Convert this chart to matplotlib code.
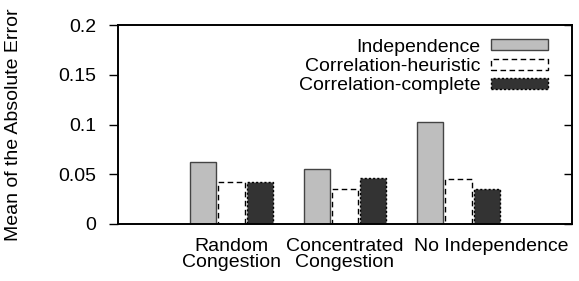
import numpy as np
import matplotlib
matplotlib.use("Agg")
import matplotlib.pyplot as plt
from matplotlib.transforms import ScaledTranslation

plt.rcParams['font.family'] = ['Liberation Sans', 'DejaVu Sans']
plt.rcParams['font.size'] = 14

# данные
groups = ["Random\nCongestion", "Concentrated\nCongestion", "No Independence"]
independence = [0.062, 0.055, 0.103]
corr_heuristic = [0.042, 0.035, 0.045]
corr_complete = [0.042, 0.046, 0.035]

fig = plt.figure(figsize=(5.79, 2.81), dpi=100)
ax = fig.add_axes([118 / 579, 1 - 224 / 281, (572 - 118) / 579, (224 - 25) / 281])

x = np.arange(1, len(groups) + 1)
w = 0.23
ax.bar(x - 0.25, independence, w, color='#bebebe', edgecolor='#444444', linewidth=1.0,
       label='Independence')
ax.bar(x, corr_heuristic, w, color='white', edgecolor='black', linewidth=1.0,
       linestyle=(0, (4, 2.5)), label='Correlation-heuristic')
ax.bar(x + 0.25, corr_complete, w, color='#333333', edgecolor='black', linewidth=1.0,
       linestyle=(0, (1.5, 1.5)), label='Correlation-complete')

ax.set_xlim(0, 4)
ax.set_ylim(0, 0.2)
ax.set_yticks([0, 0.05, 0.1, 0.15, 0.2])
ax.set_yticklabels(['0', '0.05', '0.1', '0.15', '0.2'])
ax.set_xticks(x)
ax.set_xticklabels(groups, linespacing=0.95)
ax.tick_params(axis='x', length=0, pad=10)
ax.tick_params(axis='y', direction='out', length=6.5, width=1, right=False, pad=9)
# последняя подпись в gnuplot сдвинута вправо
lbl = ax.get_xticklabels()[2]
lbl.set_transform(lbl.get_transform() + ScaledTranslation(0.33, 0, fig.dpi_scale_trans))

# правые тики внутрь
ax2 = ax.twinx()
ax2.set_ylim(0, 0.2)
ax2.set_yticks([0, 0.05, 0.1, 0.15, 0.2])
ax2.tick_params(axis='y', direction='in', length=6, width=1, labelright=False)
for a in (ax, ax2):
    for s in a.spines.values():
        s.set_linewidth(1.2)

ax.set_ylabel('Mean of the Absolute Error')
ax.yaxis.set_label_coords(-96 / 454, 0.5)

leg = ax.legend(loc='upper right', bbox_to_anchor=(0.965, 0.97), frameon=False,
                markerfirst=False, handlelength=2.95, handleheight=0.5,
                labelspacing=0.12, borderaxespad=0, handletextpad=0.55)

fig.savefig('out.png', dpi=100)
